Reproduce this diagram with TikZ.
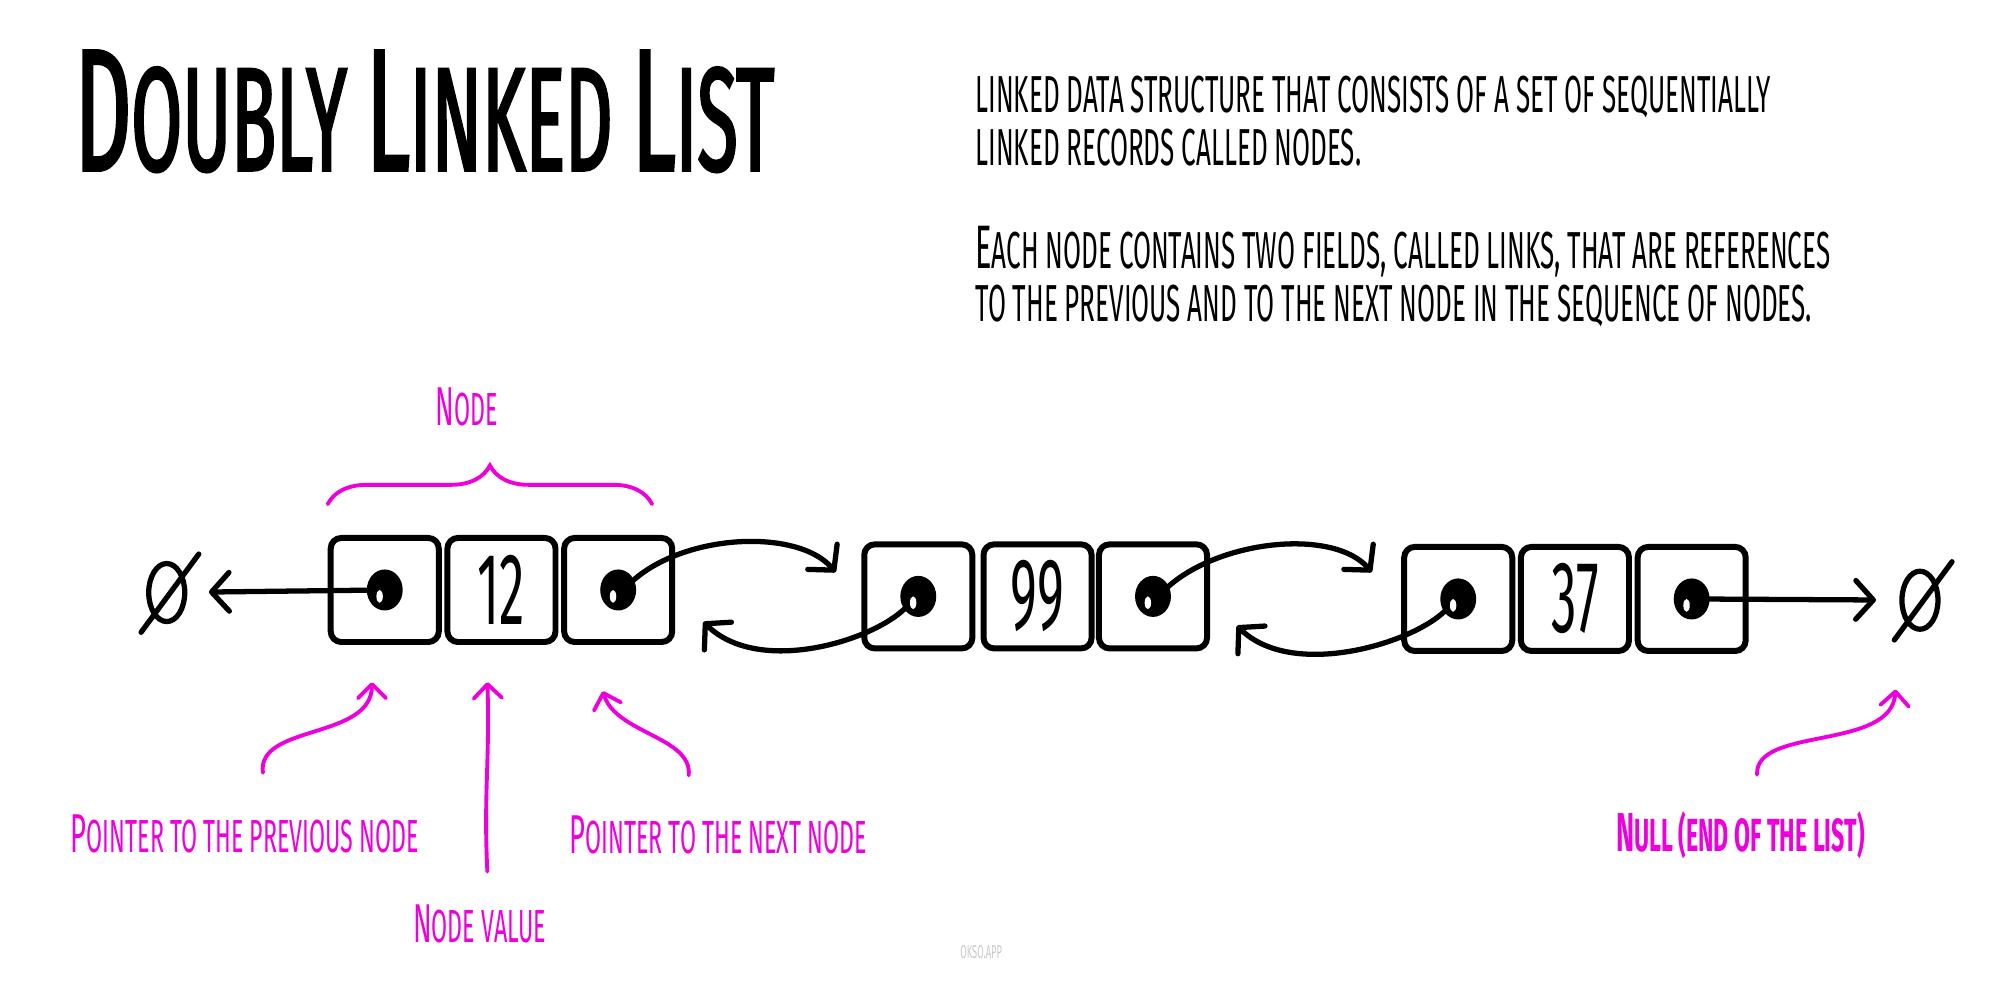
\documentclass[tikz,border=0pt]{standalone}
\usepackage{fontspec}
\setmainfont{Fira Sans}
\newfontfamily\handfont[FakeStretch=0.5]{Fira Sans}
\newfontfamily\titlefont[FakeStretch=0.5, FakeBold=1.6]{Fira Sans}
\usetikzlibrary{arrows.meta,shapes.geometric,decorations.pathreplacing}
\definecolor{notecol}{RGB}{238,0,221}
\definecolor{signcol}{RGB}{200,200,200}
% capital letter of the hand lettering
\newcommand\capl[1]{\scalebox{1.18}{#1}}
% pointer dot inside a cell
\newcommand\linkdot[1]{%
  \fill (#1.center) ellipse [x radius=14, y radius=16];
  \fill[white] ([shift={(-4,5)}]#1.center) ellipse [x radius=2.5, y radius=5];}

\tikzset{
  heading/.style={anchor=base west, inner sep=0pt, font=\titlefont\fontsize{42}{42}\selectfont},
  desc/.style={anchor=base west, inner sep=0pt, font=\handfont\fontsize{14.8}{15}\selectfont},
  cell/.style={draw, line width=1.7pt, rounded corners=3pt, minimum width=1.08cm,
    minimum height=1.04cm, inner sep=0pt, font=\handfont\fontsize{29}{29}\selectfont},
  nullsign/.style={draw, ellipse, line width=1.5pt, minimum width=0.36cm, minimum height=0.58cm, inner sep=0pt},
  link/.style={line width=1.5pt, line cap=round, -{Straight Barb[length=5pt,width=11pt,round]}},
  note/.style={notecol, line width=1.1pt, line cap=round, -{Straight Barb[length=4pt,width=8pt,round]}},
  notetext/.style={notecol, inner sep=0pt, font=\handfont\fontsize{13.2}{14}\selectfont}
}

\begin{document}
\begin{tikzpicture}[x=0.012825cm, y=-0.012825cm]
    \useasboundingbox (0,0) rectangle (1568,770);
    % Title and description
    \node[heading] (title) at (58,133) {\capl{D}OUBLY \capl{L}INKED \capl{L}IST};
    \node[desc] (desc1) at (760,88) {LINKED DATA STRUCTURE THAT CONSISTS OF A SET OF SEQUENTIALLY};
    \node[desc] (desc2) at (760,129) {LINKED RECORDS CALLED NODES.};
    \node[desc] (desc3) at (760,209) {\capl{E}ACH NODE CONTAINS TWO FIELDS, CALLED LINKS, THAT ARE REFERENCES};
    \node[desc] (desc4) at (760,251) {TO THE PREVIOUS AND TO THE NEXT NODE IN THE SEQUENCE OF NODES.};

    % The three list nodes
    \node[cell] (prev1) at (300,460) {};
    \node[cell] (val1) at (391,460) {12};
    \node[cell] (next1) at (482,460) {};
    \node[cell] (prev2) at (716,465) {};
    \node[cell] (val2) at (809,465) {99};
    \node[cell] (next2) at (899,465) {};
    \node[cell] (prev3) at (1137,467) {};
    \node[cell] (val3) at (1228,467) {37};
    \node[cell] (next3) at (1319,467) {};

    % Null at both ends
    \node[nullsign] (nullL) at (130,462) {};
    \draw[line width=1.5pt, line cap=round] ([shift={(-20,31)}]nullL.center) -- ([shift={(25,-30)}]nullL.center);
    \node[nullsign] (nullR) at (1497,468) {};
    \draw[line width=1.5pt, line cap=round] ([shift={(-20,31)}]nullR.center) -- ([shift={(25,-30)}]nullR.center);

    % Links between the nodes
    \draw[link, shorten >=12pt] (prev1.center) -- (nullL.center);
    \draw[link, shorten >=12.5pt] (next3.center) -- (nullR.center);
    \draw[link] ([shift={(8,-4)}]next1.center) .. controls +(40,-40) and +(-30,-35) .. ([shift={(-20,24)}]prev2.north west);
    \draw[link] ([shift={(-10,9)}]prev2.center) .. controls +(-26,26) and +(43,42) .. ([shift={(22,-18)}]next1.south east);
    \draw[link] ([shift={(8,-4)}]next2.center) .. controls +(40,-40) and +(-30,-35) .. ([shift={(-23,22)}]prev3.north west);
    \draw[link] ([shift={(-10,9)}]prev3.center) .. controls +(-26,26) and +(43,42) .. ([shift={(21,-20)}]next2.south east);

    % Pointer dots
    \linkdot{prev1}
    \linkdot{next1}
    \linkdot{prev2}
    \linkdot{next2}
    \linkdot{prev3}
    \linkdot{next3}

    % Brace over the first node
    \draw[notecol, line width=1.1pt, line cap=round, decorate, decoration={brace, amplitude=11pt}]
        ([shift={(0,-24)}]prev1.north west) -- ([shift={(-18,-24)}]next1.north east);
    \node[notetext] (nodeLbl) at (364,317) {\capl{N}ODE};

    % Notes below
    \node[notetext] (prevLbl) at (191,650) {\capl{P}OINTER TO THE PREVIOUS NODE};
    \node[notetext] (valLbl) at (374,720) {\capl{N}ODE VALUE};
    \node[notetext] (nextLbl) at (560,651) {\capl{P}OINTER TO THE NEXT NODE};
    \node[notetext, font=\handfont\bfseries\fontsize{13.2}{14}\selectfont] (nullLbl) at (1357,651) {\capl{N}ULL (END OF THE LIST)};
    \draw[note] ([shift={(14,-32)}]prevLbl.north) .. controls +(-5,-38) and +(0,45) .. ([shift={(-10,29)}]prev1.south);
    \draw[note] ([shift={(6,-25)}]valLbl.north) .. controls +(-3,-60) and +(2,60) .. ([shift={(-11,29)}]val1.south);
    \draw[note] ([shift={(-23,-31)}]nextLbl.north) .. controls +(3,-30) and +(10,33) .. ([shift={(-12,36)}]next1.south);
    \draw[note] ([shift={(13,-28)}]nullLbl.north) .. controls +(-2,-38) and +(-3,48) .. ([shift={(-19,45)}]nullR.south);

    % Signature
    \node[signcol, font=\handfont\fontsize{5.3}{6}\selectfont] (sign) at (765,742) {OKSO.APP};
\end{tikzpicture}
\end{document}
